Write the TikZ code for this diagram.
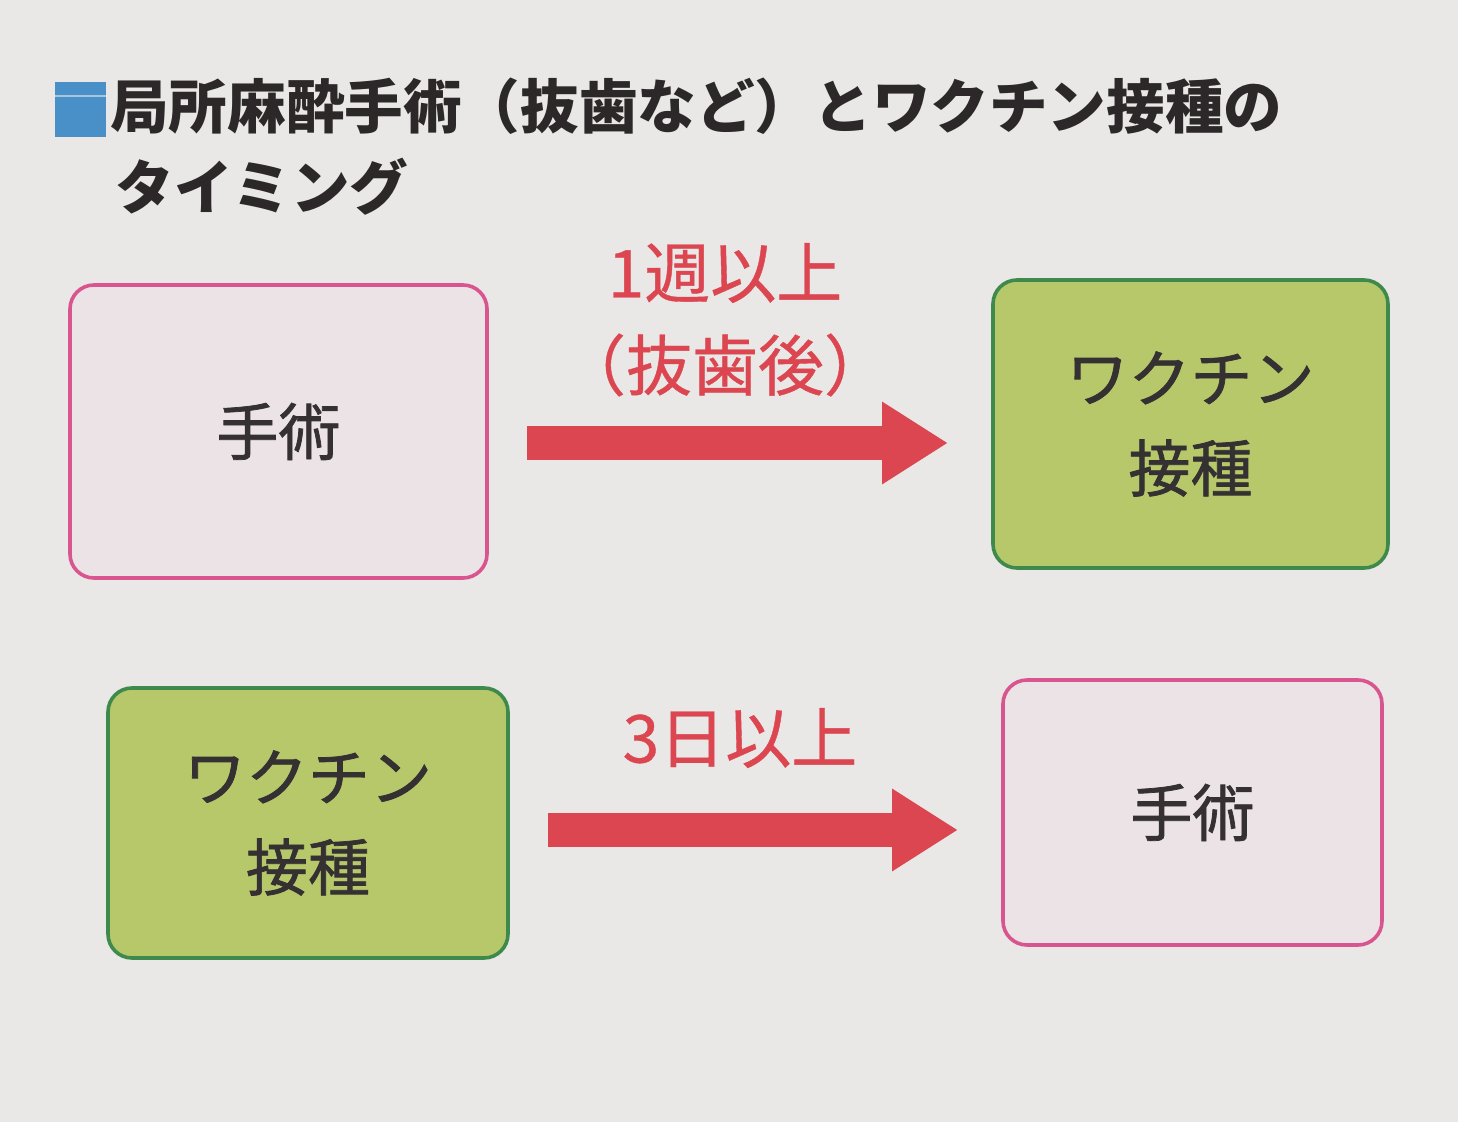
\documentclass[tikz,border=0pt]{standalone}
\usepackage{fontspec}
\newfontfamily\jp{Noto Sans CJK JP}
\newfontfamily\jpm[FakeBold=1.2]{Noto Sans CJK JP}
\newfontfamily\jpl[FakeBold=0.6]{Noto Sans CJK JP}
\usetikzlibrary{arrows.meta,calc}
\definecolor{bg}{HTML}{E9E8E6}
\definecolor{pinkline}{HTML}{D9558F}
\definecolor{pinkfill}{HTML}{ECE3E6}
\definecolor{greenline}{HTML}{3E8A4C}
\definecolor{greenfill}{HTML}{B6C86A}
\definecolor{arrred}{HTML}{DC4651}
\definecolor{titleblue}{HTML}{4A90C8}
\definecolor{ink}{HTML}{2C2728}
\definecolor{boxink}{HTML}{353032}
\begin{document}
\begin{tikzpicture}[x=0.5pt,y=-0.5pt,
  opbox/.style={draw=pinkline,fill=pinkfill,line width=1.8pt,rounded corners=12pt,
    minimum width=#1,inner sep=0pt,text=boxink,
    font=\jpm\fontsize{31}{45}\selectfont,align=center},
  vacbox/.style={draw=greenline,fill=greenfill,line width=1.8pt,rounded corners=12pt,
    minimum width=#1,inner sep=0pt,text=boxink,
    font=\jpm\fontsize{31}{45}\selectfont,align=center},
  lbl/.style={text=arrred,font=\jpl\fontsize{33}{38}\selectfont,inner sep=0pt},
  bigarrow/.style={draw=arrred,line width=17pt,-{Triangle[length=33pt,width=39pt]}},
  titletext/.style={text=ink,font=\jp\bfseries\fontsize{29.3}{34}\selectfont,inner sep=0pt,anchor=west}
]
\fill[bg] (0,0) rectangle (1458,1122);
\useasboundingbox (0,0) rectangle (1458,1122);
% title
\fill[titleblue] (55,82) rectangle (106,137);
\draw[bg!60!titleblue,line width=0.8pt] (55,96) -- (106,96);
\node[titletext] (t1) at (110,106) {局所麻酔手術（抜歯など）とワクチン接種の};
\node[titletext] (t2) at (115,187) {タイミング};
% boxes
\node[opbox=208.5pt,minimum height=146.5pt] (b1) at (278.5,431.5) {手術};
\node[vacbox=197.5pt,minimum height=144pt] (b2) at (1190.5,424) {ワクチン\\接種};
\node[vacbox=200pt,minimum height=135pt] (b3) at (308,823) {ワクチン\\接種};
\node[opbox=189.5pt,minimum height=132.5pt] (b4) at (1192.5,812.5) {手術};
% arrows
\coordinate (a1s) at (527,443);
\coordinate (a1e) at (948,443);
\coordinate (a2s) at (548,830);
\coordinate (a2e) at (958,830);
\draw[bigarrow] (a1s) -- (a1e);
\draw[bigarrow] (a2s) -- (a2e);
% labels
\node[lbl] (l1) at (725,273) {1週以上};
\node[lbl] (l2) at (725,365) {（抜歯後）};
\node[lbl] (l3) at (740,738) {3日以上};
\end{tikzpicture}
\end{document}
